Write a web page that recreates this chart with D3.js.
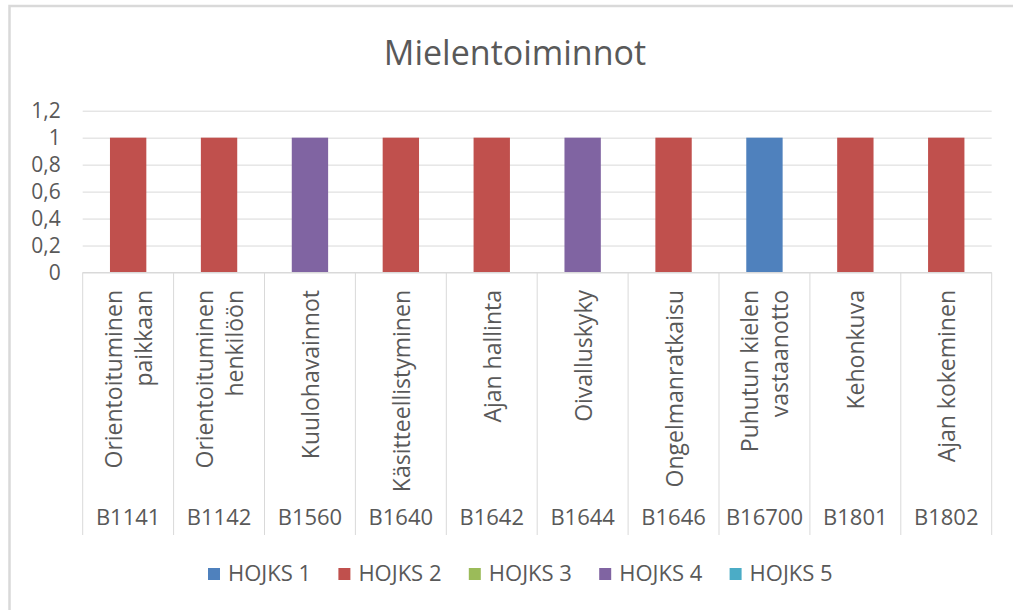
<!DOCTYPE html>
<html>
<head>
<meta charset="utf-8">
<script src="https://cdn.jsdelivr.net/npm/d3@7"></script>
<style>
  body { margin: 0; background: #fff; }
  svg { display: block; font-family: "Open Sans", sans-serif; }
</style>
</head>
<body>
<svg id="chart" width="1013" height="610"></svg>
<script>
// data
var codes = ["B1141", "B1142", "B1560", "B1640", "B1642", "B1644", "B1646", "B16700", "B1801", "B1802"];
var names = [
  ["Orientoituminen", "paikkaan"],
  ["Orientoituminen", "henkilöön"],
  ["Kuulohavainnot"],
  ["Käsitteellistyminen"],
  ["Ajan hallinta"],
  ["Oivalluskyky"],
  ["Ongelmanratkaisu"],
  ["Puhutun kielen", "vastaanotto"],
  ["Kehonkuva"],
  ["Ajan kokeminen"]
];
var seriesNames = ["HOJKS 1", "HOJKS 2", "HOJKS 3", "HOJKS 4", "HOJKS 5"];
var seriesColors = ["#4F81BD", "#C0504D", "#9BBB59", "#8064A2", "#4BACC6"];
var hojks1 = [0, 0, 0, 0, 0, 0, 0, 1, 0, 0];
var hojks2 = [1, 1, 0, 1, 1, 0, 1, 0, 1, 1];
var hojks3 = [0, 0, 0, 0, 0, 0, 0, 0, 0, 0];
var hojks4 = [0, 0, 1, 0, 0, 1, 0, 0, 0, 0];
var hojks5 = [0, 0, 0, 0, 0, 0, 0, 0, 0, 0];
var yTicks = [0, 0.2, 0.4, 0.6, 0.8, 1, 1.2];

var allSeries = [hojks1, hojks2, hojks3, hojks4, hojks5];
var table = codes.map(function(c, i) {
  var row = { code: c };
  seriesNames.forEach(function(s, j) { row[s] = allSeries[j][i]; });
  return row;
});

var svg = d3.select("#chart");
var textColor = "#595959", lineColor = "#D9D9D9";

// plot area edges (note: "top" is reserved on window, so prefix them)
var plotL = 82.7, plotR = 991.7, plotT = 110.7, plotB = 272.5;

// outer chart border (only top and left visible)
svg.append("path")
  .attr("d", "M9.5,610V6H1013")
  .attr("fill", "none")
  .attr("stroke", lineColor)
  .attr("stroke-width", 2.5);

svg.append("text")
  .attr("x", 515).attr("y", 65)
  .attr("text-anchor", "middle")
  .attr("font-size", 34)
  .attr("fill", textColor)
  .text("Mielentoiminnot");

var x = d3.scaleBand().domain(codes).range([plotL, plotR]).paddingInner(0.6).paddingOuter(0.3);
var y = d3.scaleLinear().domain([0, 1.2]).range([plotB, plotT]);
var fmt = d3.formatLocale({ decimal: ",", thousands: " ", grouping: [3], currency: ["", "€"] }).format(".1~f");

// y axis with gridlines
var yAxis = svg.append("g")
  .attr("transform", "translate(" + plotL + ",0)")
  .call(d3.axisLeft(y).tickValues(yTicks).tickFormat(fmt).tickSize(-(plotR - plotL)).tickPadding(22));
yAxis.select(".domain").remove();
yAxis.selectAll(".tick line").attr("stroke", lineColor);
yAxis.selectAll(".tick text").attr("fill", textColor).attr("font-size", 21)
  .attr("font-family", "Open Sans, sans-serif");

// bars (stacked)
var stacked = d3.stack().keys(seriesNames)(table);
svg.append("g").selectAll("g")
  .data(stacked)
  .enter().append("g")
  .attr("fill", function(d, i) { return seriesColors[i]; })
  .selectAll("rect")
  .data(function(d) { return d.filter(function(p) { return p[1] > p[0]; }); })
  .enter().append("rect")
  .attr("x", function(d) { return x(d.data.code); })
  .attr("width", x.bandwidth())
  .attr("y", function(d) { return y(d[1]); })
  .attr("height", function(d) { return y(d[0]) - y(d[1]); });

// category axis: separators, rotated names, codes
var step = x.step();
var catG = svg.append("g");
catG.append("line")
  .attr("x1", plotL).attr("x2", plotR).attr("y1", plotB).attr("y2", plotB)
  .attr("stroke", lineColor);
catG.selectAll(".sep")
  .data(d3.range(codes.length + 1))
  .enter().append("line")
  .attr("class", "sep")
  .attr("x1", function(i) { return plotL + i * step; })
  .attr("x2", function(i) { return plotL + i * step; })
  .attr("y1", plotB).attr("y2", 535)
  .attr("stroke", lineColor);

var lineH = 30;
catG.selectAll(".name")
  .data(codes)
  .enter().append("g")
  .attr("class", "name")
  .attr("transform", function(c) {
    return "translate(" + (x(c) + x.bandwidth() / 2) + ",290) rotate(-90)";
  })
  .each(function(c, i) {
    var lines = names[i];
    var off = 9 - (lines.length - 1) * lineH / 2;
    d3.select(this).selectAll("text")
      .data(lines)
      .enter().append("text")
      .attr("x", 0)
      .attr("y", function(d, k) { return off + k * lineH; })
      .attr("text-anchor", "end")
      .attr("font-size", 23)
      .attr("fill", textColor)
      .text(function(d) { return d; });
  });

catG.selectAll(".code")
  .data(codes)
  .enter().append("text")
  .attr("class", "code")
  .attr("x", function(c) { return x(c) + x.bandwidth() / 2; })
  .attr("y", 525)
  .attr("text-anchor", "middle")
  .attr("font-size", 22)
  .attr("fill", textColor)
  .text(function(c) { return c; });

// legend
var legend = svg.append("g").selectAll("g")
  .data(seriesNames)
  .enter().append("g")
  .attr("transform", function(d, i) { return "translate(" + (208 + i * 130.4) + ",0)"; });
legend.append("rect")
  .attr("x", 0).attr("y", 568).attr("width", 12).attr("height", 12)
  .attr("fill", function(d, i) { return seriesColors[i]; });
legend.append("text")
  .attr("x", 20).attr("y", 581)
  .attr("font-size", 22)
  .attr("fill", textColor)
  .text(function(d) { return d; });
</script>
</body>
</html>
